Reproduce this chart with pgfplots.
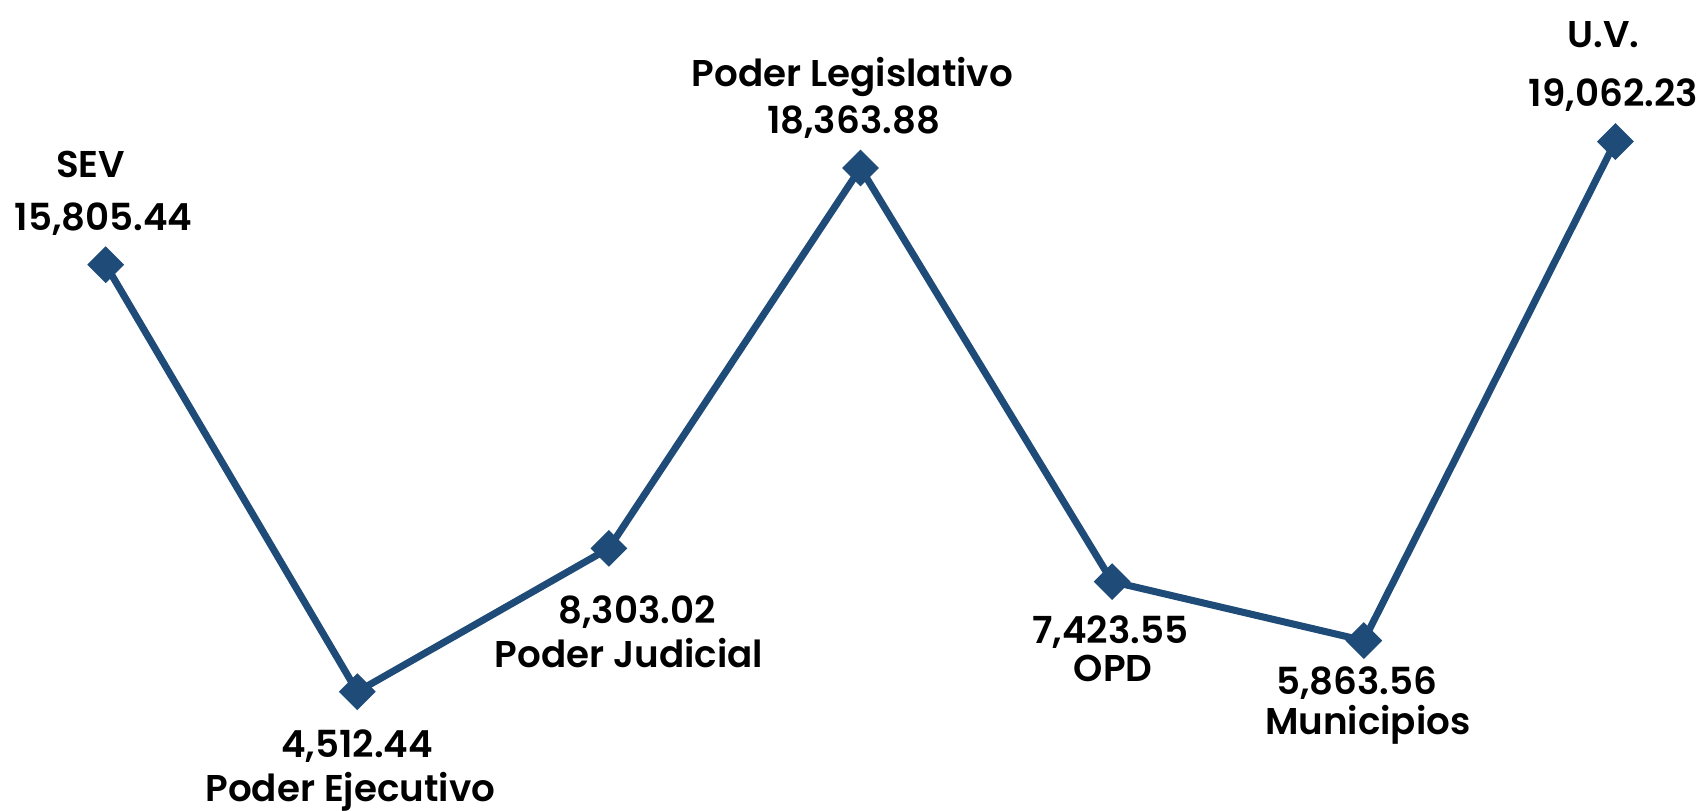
\documentclass[border=0pt]{standalone}
\usepackage{fontspec}
\setmainfont{Poppins}[UprightFont=* SemiBold]
\usepackage{pgfplots}
\pgfplotsset{compat=1.18}
\definecolor{linea}{HTML}{1F4B78}

\begin{document}
\begin{tikzpicture}[x=1mm,y=1mm,
  lab/.style={font=\fontsize{10.6}{12}\selectfont, anchor=base, inner sep=0pt, text=black}]
\begin{axis}[
  hide axis, scale only axis,
  width=170.8mm, height=81.1mm,
  xmin=-0.420, xmax=6.368,
  ymin=1357, ymax=22806,
  clip=false,
]
\addplot[linea, line width=2pt, mark=square*, mark size=3.5pt,
  mark options={rotate=45, fill=linea, draw=linea, line width=0.4pt}]
coordinates {
  (0,15805.44) (1,4512.44) (2,8303.02) (3,18363.88)
  (4,7423.55) (5,5863.56) (6,19062.23)
};
% etiquetas: desplazamiento en mm desde cada punto
\node[lab] at ([xshift=-1.5mm,yshift=8.7mm]axis cs:0,15805.44) {SEV};
\node[lab] at ([xshift=-0.2mm,yshift=3.4mm]axis cs:0,15805.44) {15,805.44};
\node[lab] at ([xshift=0mm,yshift=-6.6mm]axis cs:1,4512.44) {4,512.44};
\node[lab] at ([xshift=-0.7mm,yshift=-11.0mm]axis cs:1,4512.44) {Poder Ejecutivo};
\node[lab] at ([xshift=2.8mm,yshift=-7.5mm]axis cs:2,8303.02) {8,303.02};
\node[lab] at ([xshift=2.0mm,yshift=-11.9mm]axis cs:2,8303.02) {Poder Judicial};
\node[lab] at ([xshift=-0.8mm,yshift=8.1mm]axis cs:3,18363.88) {Poder Legislativo};
\node[lab] at ([xshift=-0.7mm,yshift=3.4mm]axis cs:3,18363.88) {18,363.88};
\node[lab] at ([xshift=-0.2mm,yshift=-6.2mm]axis cs:4,7423.55) {7,423.55};
\node[lab] at ([xshift=0.1mm,yshift=-10.0mm]axis cs:4,7423.55) {OPD};
\node[lab] at ([xshift=-0.7mm,yshift=-5.4mm]axis cs:5,5863.56) {5,863.56};
\node[lab] at ([xshift=0.4mm,yshift=-9.4mm]axis cs:5,5863.56) {Municipios};
\node[lab] at ([xshift=-1.2mm,yshift=9.4mm]axis cs:6,19062.23) {U.V.};
\node[lab] at ([xshift=-0.2mm,yshift=3.5mm]axis cs:6,19062.23) {19,062.23};
\end{axis}
\pgfresetboundingbox
\path (current axis.south west) rectangle (current axis.north east);
\end{tikzpicture}
\end{document}
